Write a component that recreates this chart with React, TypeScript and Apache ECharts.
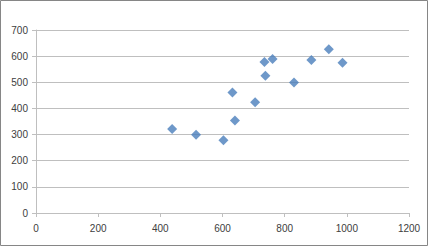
import React, { useEffect, useRef } from "react";
import * as echarts from "echarts";

const xValues = [438, 515, 603, 640, 632, 705, 738, 735, 761, 830, 886, 942, 986];
const yValues = [321, 299, 278, 354, 461, 424, 525, 578, 589, 499, 585, 626, 575];

const xTicks = [0, 200, 400, 600, 800, 1000, 1200];
const yTicks = [0, 100, 200, 300, 400, 500, 600, 700];

export default function App() {
  const ref = useRef<HTMLDivElement>(null);
  useEffect(() => {
    if (!ref.current) return;
    const chart = echarts.init(ref.current, null, { renderer: "svg" });
    const data = xValues.map((x, i) => [x, yValues[i]]);
    const font = { fontFamily: "Liberation Sans", fontSize: 10, color: "#404040" };
    chart.setOption({
      animation: false,
      backgroundColor: "#ffffff",
      grid: { left: 36, right: 19, top: 30, bottom: 34 },
      xAxis: {
        type: "value",
        min: xTicks[0],
        max: xTicks[xTicks.length - 1],
        interval: 200,
        axisLine: { show: true, onZero: false, lineStyle: { color: "#bfbfbf", width: 1 } },
        axisTick: { show: true, length: 4, lineStyle: { color: "#bfbfbf" } },
        splitLine: { show: false },
        axisLabel: { ...font, margin: 10, formatter: (v: number) => String(v) },
      },
      yAxis: {
        type: "value",
        min: yTicks[0],
        max: yTicks[yTicks.length - 1],
        interval: 100,
        axisLine: { show: true, onZero: false, lineStyle: { color: "#bfbfbf", width: 1 } },
        axisTick: { show: true, length: 4, lineStyle: { color: "#bfbfbf" } },
        splitLine: { show: true, lineStyle: { color: "#bfbfbf", width: 1 } },
        axisLabel: { ...font, margin: 8, formatter: (v: number) => String(v) },
      },
      series: [
        {
          type: "scatter",
          symbol: "diamond",
          symbolSize: 10,
          itemStyle: { color: "#4a7ebb" },
          data,
        },
      ],
      graphic: [
        {
          type: "rect",
          shape: { x: 0.5, y: 0.5, width: 427, height: 245 },
          style: { fill: "none", stroke: "#868686", lineWidth: 1 },
          silent: true,
        },
      ],
    });
    return () => chart.dispose();
  }, []);
  return (
    <div
      ref={ref}
      style={{ position: "absolute", left: 0, top: 0, width: 428, height: 247 }}
    />
  );
}
